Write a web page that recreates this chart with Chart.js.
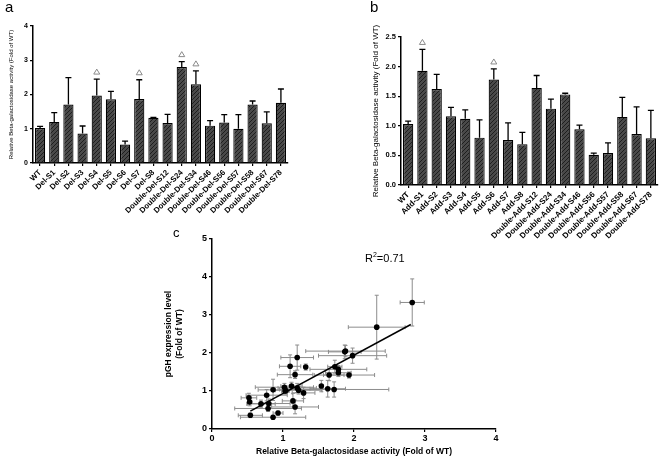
<!DOCTYPE html>
<html>
<head>
<meta charset="utf-8">
<script src="https://cdn.jsdelivr.net/npm/chart.js@4"></script>
<style>
body{margin:0;background:#fff;}
#wrap{position:relative;width:660px;height:457px;overflow:hidden;font-family:"Liberation Sans",Arial,sans-serif;}
canvas{position:absolute;}
.lbl{position:absolute;color:#000;}
</style>
</head>
<body>
<div id="wrap">
<canvas id="chartA" width="300" height="235" style="left:0;top:0"></canvas>
<canvas id="chartB" width="330" height="245" style="left:330px;top:0"></canvas>
<canvas id="chartC" width="360" height="232" style="left:150px;top:225px"></canvas>
<div class="lbl" style="left:5px;top:-2px;font-size:15px">a</div>
<div class="lbl" style="left:370px;top:-2px;font-size:15px">b</div>
<div class="lbl" style="left:173px;top:225px;font-size:13px">c</div>
<div class="lbl" style="left:365px;top:251px;font-size:11px">R<sup style="font-size:7px">2</sup>=0.71</div>
</div>
<script>
// panel a - deletion mutants
let delLabels=["WT","Del-S1","Del-S2","Del-S3","Del-S4","Del-S5","Del-S6","Del-S7","Del-S8",
"Double-Del-S12","Double-Del-S24","Double-Del-S34","Double-Del-S46","Double-Del-S56",
"Double-Del-S57","Double-Del-S58","Double-Del-S67","Double-Del-S78"];
let delValues=[1.02,1.20,1.71,0.86,1.97,1.86,0.54,1.87,1.32,1.17,2.80,2.30,1.09,1.18,1.00,1.71,1.16,1.76];
let delErrors=[0.05,0.27,0.78,0.22,0.48,0.23,0.10,0.56,0.01,0.25,0.16,0.39,0.15,0.23,0.41,0.10,0.33,0.40];
let delMarked=[0,0,0,0,1,0,0,1,0,0,1,1,0,0,0,0,0,0];
let delTicks=[0,1,2,3,4];

// panel b - addition mutants
let addLabels=["WT","Add-S1","Add-S2","Add-S3","Add-S4","Add-S5","Add-S6","Add-S7","Add-S8",
"Double-Add-S12","Double-Add-S24","Double-Add-S34","Double-Add-S46","Double-Add-S56",
"Double-Add-S57","Double-Add-S58","Double-Add-S67","Double-Add-S78"];
let addValues=[1.03,1.93,1.62,1.16,1.12,0.80,1.78,0.76,0.69,1.64,1.29,1.53,0.94,0.51,0.54,1.15,0.86,0.79];
let addErrors=[0.05,0.36,0.25,0.15,0.15,0.30,0.18,0.29,0.20,0.21,0.16,0.02,0.07,0.03,0.17,0.33,0.46,0.47];
let addMarked=[0,1,0,0,0,0,1,0,0,0,0,0,0,0,0,0,0,0];
let addTicks=[0,0.5,1,1.5,2,2.5];

// panel c - beta-gal activity vs pGH expression
let pghX=[1.03,1.20,1.72,0.86,1.98,1.87,0.52,1.88,1.32,1.17,2.82,2.32,1.10,1.20,1.02,1.73,1.17,1.78,
1.04,1.93,1.63,1.14,1.12,0.80,1.78,0.77,0.69,1.65,1.29,1.54,0.93,0.53,0.54,1.22,0.86,0.79];
let pghY=[1.00,1.08,1.04,1.03,1.93,2.03,0.82,2.05,1.63,1.43,3.33,2.68,1.65,1.88,1.10,1.64,0.58,1.57,
1.01,1.42,1.06,0.74,1.13,0.67,1.48,0.89,0.66,1.42,0.95,1.13,0.42,0.71,0.36,1.02,0.31,0.54];
let pghXErr=[0.05,0.27,0.77,0.21,0.48,0.23,0.11,0.56,0.02,0.25,0.17,0.40,0.15,0.23,0.41,0.10,0.33,0.40,
0.05,0.36,0.25,0.15,0.15,0.30,0.18,0.29,0.20,0.21,0.16,0.02,0.07,0.03,0.17,0.33,0.46,0.47];
let pghYErr=[0.08,0.12,0.20,0.28,0.20,0.18,0.12,0.15,0.08,0.10,0.62,0.84,0.30,0.33,0.10,0.17,0.18,0.10,
0.08,0.08,0.22,0.20,0.10,0.12,0.10,0.15,0.10,0.15,0.15,0.15,0.05,0.10,0.06,0.10,0.05,0.08];
let fitX=[0.54,2.80];
let fitY=[0.47,2.75];

let fontFam='"Liberation Sans", Arial, sans-serif';

function hatch(){
let c=document.createElement("canvas");
c.width=4;c.height=4;
let g=c.getContext("2d");
g.fillStyle="#4a4a4a";
g.fillRect(0,0,4,4);
g.strokeStyle="#1e1e1e";
g.lineWidth=1;
g.beginPath();
g.moveTo(0,4);g.lineTo(4,0);
g.moveTo(-1,1);g.lineTo(1,-1);
g.moveTo(3,5);g.lineTo(5,3);
g.stroke();
return g.createPattern(c,"repeat");
}

/* error bars + triangle marks for the bar panels */
function barExtras(errors,marked){
return {
id:"barExtras",
afterDatasetsDraw(chart){
let ctx=chart.ctx;
let meta=chart.getDatasetMeta(0);
let ys=chart.scales.y;
let vals=chart.data.datasets[0].data;
ctx.save();
meta.data.forEach((bar,i)=>{
let top=ys.getPixelForValue(vals[i]+errors[i]);
let yv=ys.getPixelForValue(vals[i]);
ctx.strokeStyle="#000";
ctx.lineWidth=1.3;
ctx.beginPath();
ctx.moveTo(bar.x,yv);ctx.lineTo(bar.x,top);
ctx.moveTo(bar.x-3,top);ctx.lineTo(bar.x+3,top);
ctx.stroke();
if(marked[i]){
ctx.strokeStyle="#8a8a8a";
ctx.lineWidth=1;
ctx.beginPath();
ctx.moveTo(bar.x,top-10);
ctx.lineTo(bar.x-3,top-5);
ctx.lineTo(bar.x+3,top-5);
ctx.closePath();
ctx.stroke();
}
});
ctx.restore();
}
};
}

function axisStyle(){
return {
grid:{display:true,drawOnChartArea:false,drawTicks:true,tickLength:3,color:"#000",lineWidth:1.2,offset:false},
border:{display:true,color:"#000",width:1.5}
};
}

function barChart(id,labels,values,errors,marked,tickVals,opt){
let xs=axisStyle();
let ysAxis=axisStyle();
return new Chart(document.getElementById(id),{
type:"bar",
data:{labels:labels,datasets:[{data:values,backgroundColor:hatch(),borderColor:"#000",borderWidth:1.2,
barPercentage:0.72,categoryPercentage:1}]},
options:{
responsive:false,animation:false,
layout:{padding:opt.padding},
plugins:{legend:{display:false},tooltip:{enabled:false}},
scales:{
x:Object.assign(xs,{
ticks:{minRotation:45,maxRotation:45,autoSkip:false,padding:2,color:"#000",font:{family:fontFam,size:opt.xFont,weight:"bold"}},
afterFit:s=>{s.height=opt.xHeight;}
}),
y:Object.assign(ysAxis,{
min:tickVals[0],max:tickVals[tickVals.length-1],
afterBuildTicks:s=>{s.ticks=tickVals.map(v=>({value:v}));},
ticks:{padding:2,color:"#000",font:{family:fontFam,size:opt.yFont,weight:"bold"},
callback:v=>opt.decimals?v.toFixed(1):v},
title:{display:true,text:"Relative Beta-galactosidase activity (Fold of WT)",color:"#000",padding:0,
font:{family:fontFam,size:opt.titleFont}},
afterFit:s=>{s.width=opt.yWidth;}
})
}
},
plugins:[barExtras(errors,marked)]
});
}

barChart("chartA",delLabels,delValues,delErrors,delMarked,delTicks,
{padding:{left:8,top:26,right:12,bottom:0},xHeight:72,yWidth:25,xFont:7.8,yFont:7,titleFont:6,decimals:false});

barChart("chartB",addLabels,addValues,addErrors,addMarked,addTicks,
{padding:{left:41,top:37,right:2,bottom:0},xHeight:60,yWidth:30,xFont:8,yFont:7.5,titleFont:8,decimals:true});

/* panel c */
let pts=pghX.map((x,i)=>({x:x,y:pghY[i]}));
let fit=fitX.map((x,i)=>({x:x,y:fitY[i]}));

let errPlugin={
id:"xyErr",
beforeDatasetsDraw(chart){
let ctx=chart.ctx,sx=chart.scales.x,sy=chart.scales.y;
ctx.save();
ctx.strokeStyle="#8c8c8c";
ctx.lineWidth=1;
pghX.forEach((x,i)=>{
let px=sx.getPixelForValue(x),py=sy.getPixelForValue(pghY[i]);
let x0=sx.getPixelForValue(x-pghXErr[i]),x1=sx.getPixelForValue(x+pghXErr[i]);
let y0=sy.getPixelForValue(pghY[i]-pghYErr[i]),y1=sy.getPixelForValue(pghY[i]+pghYErr[i]);
ctx.beginPath();
ctx.moveTo(x0,py);ctx.lineTo(x1,py);
ctx.moveTo(x0,py-2);ctx.lineTo(x0,py+2);
ctx.moveTo(x1,py-2);ctx.lineTo(x1,py+2);
ctx.moveTo(px,y0);ctx.lineTo(px,y1);
ctx.moveTo(px-2,y0);ctx.lineTo(px+2,y0);
ctx.moveTo(px-2,y1);ctx.lineTo(px+2,y1);
ctx.stroke();
});
ctx.restore();
}
};

let cx=axisStyle(),cy=axisStyle();
new Chart(document.getElementById("chartC"),{
type:"scatter",
data:{datasets:[
{data:pts,pointRadius:2.8,backgroundColor:"#000",borderColor:"#000",borderWidth:0},
{type:"line",data:fit,borderColor:"#000",borderWidth:1.5,pointRadius:0,fill:false}
]},
options:{
responsive:false,animation:false,
layout:{padding:{left:14,top:14,right:14,bottom:0}},
plugins:{legend:{display:false},tooltip:{enabled:false}},
scales:{
x:Object.assign(cx,{type:"linear",min:0,max:4,
ticks:{stepSize:1,padding:1,color:"#000",font:{family:fontFam,size:9,weight:"bold"}},
title:{display:true,text:"Relative Beta-galactosidase activity (Fold of WT)",color:"#000",padding:{top:2,bottom:0},
font:{family:fontFam,size:8.5,weight:"bold"}},
afterFit:s=>{s.height=28;}
}),
y:Object.assign(cy,{min:0,max:5,
ticks:{stepSize:1,padding:2,color:"#000",font:{family:fontFam,size:9,weight:"bold"}},
title:{display:true,text:["pGH expression level","(Fold of WT)"],color:"#000",padding:0,
font:{family:fontFam,size:8.5,weight:"bold"}},
afterFit:s=>{s.width=48;}
})
}
},
plugins:[errPlugin]
});
</script>
</body>
</html>
